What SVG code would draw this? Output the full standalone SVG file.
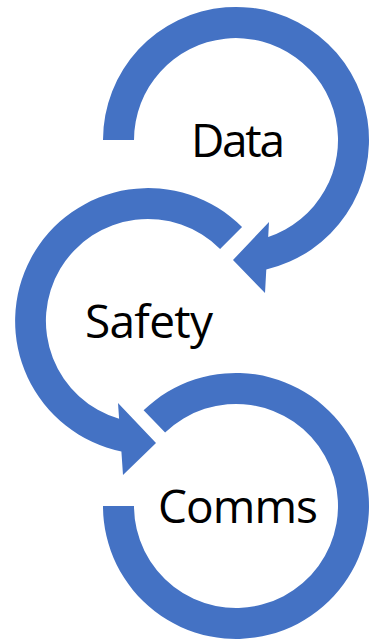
<svg xmlns="http://www.w3.org/2000/svg" width="370" height="640" viewBox="0 0 370 640">
<style>
.arc{fill:#4472C4;stroke:none}
.lbl{font-family:"Open Sans","Noto Sans","Liberation Sans",sans-serif;font-size:46px;fill:#000}
</style>
<rect width="370" height="640" fill="#fff"/>
<g id="connectors">
<path id="arc-data" class="arc" d="M 103 140 A 133 133 0 1 1 266.3 269.4 L 265 293 L 233 260 L 269 222 L 268.2 236.9 A 102 102 0 1 0 134 140 Z"/>
<path id="arc-safety" class="arc" d="M 242.05 226.95 A 133 133 0 1 0 121.4 451.4 L 123 475 L 156 443 L 118 403 L 119.1 418.8 A 102 102 0 1 1 220.1 248.9 Z"/>
<path id="arc-comms" class="arc" d="M 103 506 A 133 133 0 1 0 143.6 410.3 L 165.1 432.6 A 102 102 0 1 1 134 506 Z"/>
</g>
<g id="node-data"><text class="lbl" x="191" y="157" textLength="94">Data</text></g>
<g id="node-safety"><text class="lbl" x="85" y="338" textLength="128">Safety</text></g>
<g id="node-comms"><text class="lbl" x="158" y="523" textLength="160">Comms</text></g>
</svg>
